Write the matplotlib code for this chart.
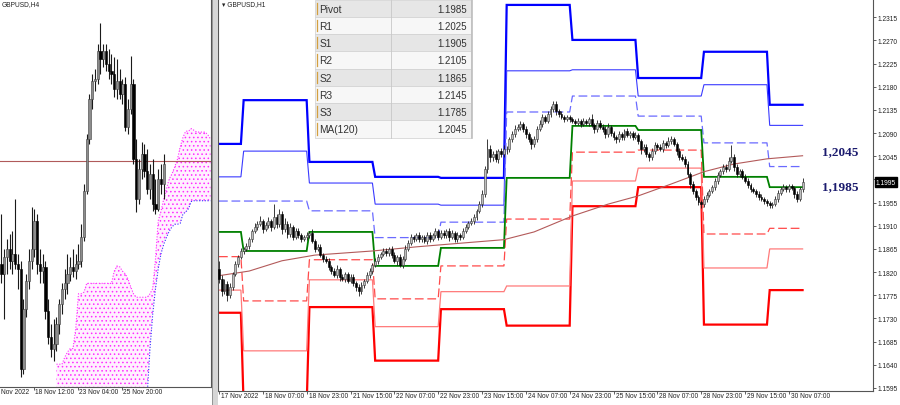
import numpy as np
import matplotlib
matplotlib.use('Agg')
import matplotlib.pyplot as plt
from matplotlib.patches import Rectangle

plt.rcParams['font.family'] = ['Liberation Sans', 'DejaVu Sans']
plt.rcParams['hatch.color'] = '#ff2cff'
plt.rcParams['hatch.linewidth'] = 0.6

# ---------------- H1 data (GBPUSD, from 17 Nov 2022 15:00) ----------------
h1_close = [1.1807, 1.1783, 1.1797, 1.1776, 1.1791, 1.1816, 1.1836, 1.1850, 1.1861, 1.1865,
            1.1871, 1.1884, 1.1900, 1.1908, 1.1914, 1.1919, 1.1904, 1.1912, 1.1919, 1.1908,
            1.1927, 1.1914, 1.1933, 1.1904, 1.1914, 1.1894, 1.1908, 1.1888, 1.1900, 1.1892,
            1.1884, 1.1888, 1.1892, 1.1896, 1.1880, 1.1865, 1.1869, 1.1853, 1.1846, 1.1842,
            1.1830, 1.1822, 1.1815, 1.1826, 1.1811, 1.1807, 1.1816, 1.1803, 1.1811, 1.1799,
            1.1791, 1.1783, 1.1795, 1.1803, 1.1815, 1.1822, 1.1834, 1.1842, 1.1850, 1.1855,
            1.1861, 1.1857, 1.1865, 1.1853, 1.1842, 1.1850, 1.1834, 1.1846, 1.1865, 1.1877,
            1.1888, 1.1884, 1.1892, 1.1884, 1.1888, 1.1880, 1.1892, 1.1884, 1.1892, 1.1900,
            1.1888, 1.1896, 1.1892, 1.1900, 1.1888, 1.1896, 1.1884, 1.1892, 1.1888, 1.1900,
            1.1908, 1.1915, 1.1919, 1.1927, 1.1939, 1.1952, 1.1972, 1.2020, 1.2059, 1.2044,
            1.2049, 1.2040, 1.2055, 1.2049, 1.2059, 1.2059, 1.2078, 1.2088, 1.2098, 1.2102,
            1.2108, 1.2098, 1.2088, 1.2078, 1.2069, 1.2078, 1.2098, 1.2108, 1.2121, 1.2114,
            1.2127, 1.2137, 1.2147, 1.2133, 1.2127, 1.2121, 1.2117, 1.2121, 1.2117, 1.2114,
            1.2110, 1.2114, 1.2108, 1.2114, 1.2110, 1.2117, 1.2106, 1.2098, 1.2110, 1.2102,
            1.2098, 1.2088, 1.2102, 1.2090, 1.2082, 1.2078, 1.2088, 1.2082, 1.2094, 1.2086,
            1.2090, 1.2082, 1.2086, 1.2075, 1.2059, 1.2063, 1.2049, 1.2044, 1.2055, 1.2067,
            1.2063, 1.2059, 1.2071, 1.2067, 1.2075, 1.2078, 1.2069, 1.2055, 1.2044, 1.2040,
            1.2030, 1.2011, 1.1991, 1.1977, 1.1966, 1.1956, 1.1952, 1.1962, 1.1970, 1.1977,
            1.1985, 1.1997, 1.2009, 1.2016, 1.2024, 1.2020, 1.2036, 1.2044, 1.2024, 1.2011,
            1.2016, 1.2005, 1.1997, 1.1989, 1.1981, 1.1977, 1.1972, 1.1966, 1.1962, 1.1958,
            1.1954, 1.1950, 1.1952, 1.1962, 1.1974, 1.1981, 1.1985, 1.1981, 1.1987, 1.1983,
            1.1972, 1.1962, 1.1981, 1.1995]
h1_first_open = 1.1826
# wick lengths in pips above / below the candle body
h1_wick_up = [16, 8, 10, 6, 8, 5, 6, 4, 5, 4, 6, 5, 4, 8, 6, 10, 4, 6, 8, 5,
              25, 6, 10, 5, 12, 6, 8, 4, 6, 5, 4, 5, 6, 4, 8, 4, 6, 5, 4, 6,
              5, 4, 6, 8, 4, 6, 5, 4, 6, 5, 4, 6, 5, 4, 6, 5, 4, 6, 5, 4,
              5, 6, 4, 5, 6, 4, 6, 5, 8, 6, 6, 5, 4, 6, 5, 4, 6, 5, 4, 5,
              4, 5, 6, 4, 5, 6, 4, 5, 4, 6, 5, 4, 6, 5, 4, 6, 8, 6, 19, 8,
              6, 8, 5, 6, 8, 6, 5, 6, 8, 5, 5, 4, 6, 5, 4, 6, 5, 8, 6, 5,
              5, 6, 6, 5, 4, 6, 4, 5, 4, 5, 4, 5, 4, 6, 4, 5, 10, 4, 6, 5,
              6, 5, 8, 4, 5, 4, 6, 5, 4, 6, 5, 4, 6, 5, 4, 6, 5, 4, 6, 5,
              4, 6, 5, 4, 8, 6, 5, 4, 6, 5, 6, 5, 4, 6, 5, 4, 5, 6, 5, 4,
              5, 6, 5, 4, 6, 5, 8, 22, 6, 5, 5, 4, 6, 5, 4, 5, 4, 6, 5, 4,
              4, 5, 4, 6, 5, 4, 6, 5, 4, 5, 4, 6, 5, 8]
h1_wick_dn = [8, 10, 6, 12, 6, 5, 4, 6, 4, 5, 4, 6, 5, 4, 6, 5, 8, 4, 6, 8,
              5, 8, 6, 10, 6, 8, 5, 6, 4, 6, 6, 4, 5, 6, 4, 6, 5, 4, 6, 5,
              6, 5, 4, 6, 8, 5, 6, 4, 5, 6, 8, 10, 6, 5, 4, 6, 5, 4, 6, 5,
              4, 6, 5, 6, 4, 8, 5, 6, 4, 5, 5, 6, 4, 5, 6, 4, 5, 6, 4, 5,
              6, 4, 5, 6, 8, 4, 6, 5, 6, 4, 4, 5, 4, 6, 5, 4, 5, 6, 8, 10,
              8, 6, 8, 5, 6, 10, 6, 5, 6, 4, 6, 5, 8, 6, 10, 6, 5, 4, 6, 5,
              4, 5, 6, 8, 5, 4, 5, 4, 6, 5, 5, 4, 6, 4, 5, 6, 5, 8, 6, 5,
              5, 8, 6, 5, 6, 8, 5, 6, 5, 4, 6, 5, 4, 6, 10, 6, 5, 8, 6, 5,
              5, 4, 6, 5, 4, 6, 5, 8, 6, 5, 5, 6, 8, 6, 5, 6, 8, 5, 6, 4,
              4, 5, 6, 4, 5, 6, 4, 5, 8, 6, 6, 5, 4, 6, 5, 4, 6, 5, 4, 6,
              5, 6, 5, 4, 6, 5, 4, 6, 5, 4, 8, 6, 4, 5]

# daily pivot levels (first bar index of each day)
day_start = [0, 9, 33, 57, 81, 105, 129, 153, 177, 201]
R3 = [1.2069, 1.2154, 1.2034, 1.2005, 1.2003, 1.2339, 1.2271, 1.2197, 1.2248, 1.2145]
R2 = [1.2005, 1.2055, 1.1993, 1.1952, 1.1950, 1.2211, 1.2213, 1.2162, 1.2184, 1.2105]
R1 = [1.1958, 1.1958, 1.1939, 1.1887, 1.1917, 1.2131, 1.2162, 1.2123, 1.2071, 1.2025]
PP = [1.1898, 1.1861, 1.1898, 1.1832, 1.1867, 1.2003, 1.2104, 1.2096, 1.2005, 1.1985]
S1 = [1.1850, 1.1764, 1.1844, 1.1768, 1.1832, 1.1923, 1.2053, 1.2057, 1.1894, 1.1905]
S2 = [1.1785, 1.1667, 1.1805, 1.1714, 1.1782, 1.1793, 1.1997, 1.2022, 1.1828, 1.1865]
S3 = [1.1741, 1.1560, 1.1752, 1.1648, 1.1748, 1.1716, 1.1948, 1.1985, 1.1718, 1.1785]

ma_idx = [0, 11, 23, 35, 56, 72, 81, 104, 115, 129, 142, 153, 165, 177, 188, 200, 213]
ma_val = [1.1813, 1.1822, 1.1842, 1.1853, 1.1861, 1.1869, 1.1873, 1.1883, 1.1898, 1.1929,
          1.1952, 1.1968, 1.1991, 1.2015, 1.2030, 1.2040, 1.2046]

h1_tick_idx = [0, 16, 32, 48, 64, 80, 96, 112, 128, 144, 160, 176, 192, 208]
h1_tick_lab = ['17 Nov 2022', '18 Nov 07:00', '18 Nov 23:00', '21 Nov 15:00', '22 Nov 07:00',
               '22 Nov 23:00', '23 Nov 15:00', '24 Nov 07:00', '24 Nov 23:00', '25 Nov 15:00',
               '28 Nov 07:00', '28 Nov 23:00', '29 Nov 15:00', '30 Nov 07:00']
price_ticks = [1.2315, 1.2270, 1.2225, 1.2180, 1.2135, 1.2090, 1.2045, 1.2000, 1.1955,
               1.1910, 1.1865, 1.1820, 1.1775, 1.1730, 1.1685, 1.1640, 1.1595]
last_price = 1.1995

table_names = ['Pivot', 'R1', 'S1', 'R2', 'S2', 'R3', 'S3', 'MA(120)']
table_vals = [1.1985, 1.2025, 1.1905, 1.2105, 1.1865, 1.2145, 1.1785, 1.2045]
marker_labels = ['1,2045', '1,1985']
marker_prices = [1.2054, 1.1986]

# ---------------- H4 data ----------------
h4_open = [1.1875, 1.1864, 1.1883, 1.1893, 1.1879, 1.1887, 1.1875, 1.1870, 1.1755, 1.1824,
           1.1856, 1.1879, 1.1893, 1.1925, 1.1875, 1.1867, 1.1872, 1.1821, 1.1791, 1.1778,
           1.1783, 1.1806, 1.1829, 1.1847, 1.1853, 1.1864, 1.1872, 1.1867, 1.1875, 1.1879,
           1.1906, 1.1959, 1.2019, 1.2065, 1.2086, 1.2088, 1.2120, 1.2111, 1.2120, 1.2105,
           1.2097, 1.2094, 1.2077, 1.2086, 1.2071, 1.2082, 1.2033, 1.2054, 1.2082, 1.1996,
           1.1950, 1.1985, 1.2002, 1.1982, 1.1962, 1.1979, 1.1944, 1.1939, 1.1973, 1.1967]
h4_close = [1.1864, 1.1883, 1.1893, 1.1879, 1.1887, 1.1875, 1.1870, 1.1755, 1.1824, 1.1856,
            1.1879, 1.1893, 1.1925, 1.1875, 1.1867, 1.1872, 1.1821, 1.1791, 1.1778, 1.1783,
            1.1806, 1.1829, 1.1847, 1.1853, 1.1864, 1.1872, 1.1867, 1.1875, 1.1879, 1.1906,
            1.1959, 1.2019, 1.2065, 1.2086, 1.2088, 1.2120, 1.2111, 1.2120, 1.2105, 1.2097,
            1.2094, 1.2077, 1.2086, 1.2071, 1.2082, 1.2033, 1.2054, 1.2082, 1.1996, 1.1950,
            1.1985, 1.2002, 1.1982, 1.1962, 1.1979, 1.1944, 1.1939, 1.1973, 1.1967, 1.1990]
h4_high = [1.1933, 1.1893, 1.1904, 1.1910, 1.1913, 1.1950, 1.1887, 1.1879, 1.1835, 1.1864,
           1.1893, 1.1941, 1.1939, 1.1933, 1.1893, 1.1887, 1.1879, 1.1835, 1.1806, 1.1812,
           1.1814, 1.1835, 1.1853, 1.1870, 1.1887, 1.1883, 1.1893, 1.1887, 1.1898, 1.1921,
           1.1967, 1.2025, 1.2071, 1.2094, 1.2100, 1.2128, 1.2152, 1.2128, 1.2128, 1.2123,
           1.2117, 1.2113, 1.2111, 1.2100, 1.2088, 1.2090, 1.2065, 1.2114, 1.2088, 1.2019,
           1.1996, 1.2016, 1.2013, 1.2008, 1.1990, 1.1996, 1.1973, 1.1985, 1.1990, 1.2002]
h4_low = [1.1853, 1.1812, 1.1864, 1.1870, 1.1864, 1.1870, 1.1847, 1.1745, 1.1749, 1.1814,
          1.1847, 1.1870, 1.1883, 1.1864, 1.1853, 1.1853, 1.1812, 1.1783, 1.1768, 1.1764,
          1.1775, 1.1795, 1.1818, 1.1835, 1.1841, 1.1856, 1.1860, 1.1858, 1.1870, 1.1872,
          1.1902, 1.1956, 1.2013, 1.2054, 1.2074, 1.2082, 1.2094, 1.2102, 1.2097, 1.2088,
          1.2082, 1.2067, 1.2065, 1.2065, 1.2059, 1.2028, 1.2025, 1.2048, 1.1990, 1.1935,
          1.1944, 1.1973, 1.1975, 1.1956, 1.1950, 1.1936, 1.1933, 1.1936, 1.1956, 1.1950]
# Ichimoku cloud spans, starting at H4 bar 20
cloud_start = 20
cloud_upper = [1.1760, 1.1760, 1.1760, 1.1768, 1.1774, 1.1778, 1.1778, 1.1801, 1.1841, 1.1841,
               1.1843, 1.1853, 1.1853, 1.1853, 1.1853, 1.1853, 1.1853, 1.1853, 1.1853, 1.1853,
               1.1853, 1.1867, 1.1873, 1.1872, 1.1867, 1.1864, 1.1858, 1.1849, 1.1841, 1.1837,
               1.1837, 1.1837, 1.1837, 1.1837, 1.1841, 1.1847, 1.1881, 1.1925, 1.1936, 1.1950,
               1.1962, 1.1973, 1.1979, 1.1987, 1.1996, 1.2010, 1.2021, 1.2028, 1.2028, 1.2031,
               1.2029, 1.2027, 1.2027, 1.2027, 1.2027, 1.2024, 1.2019]
cloud_lower = [1.1705, 1.1705, 1.1705, 1.1705, 1.1705, 1.1705, 1.1705, 1.1705,
               1.1705, 1.1705, 1.1705, 1.1705, 1.1705, 1.1705, 1.1705, 1.1705, 1.1705, 1.1705,
               1.1705, 1.1705, 1.1705, 1.1705, 1.1705, 1.1705, 1.1705, 1.1705, 1.1705, 1.1705,
               1.1705, 1.1705, 1.1705, 1.1705, 1.1705, 1.1726, 1.1778, 1.1818, 1.1847, 1.1870,
               1.1887, 1.1898, 1.1906, 1.1913, 1.1918, 1.1921, 1.1921, 1.1922, 1.1933, 1.1935,
               1.1939, 1.1947, 1.1948, 1.1948, 1.1948, 1.1948, 1.1948, 1.1948, 1.1948]
h4_tick_idx = [12, 28, 44]
h4_tick_lab = ['18 Nov 12:00', '23 Nov 04:00', '25 Nov 20:00']
h4_first_label = 'Nov 2022'
h4_current = 1.1994

# ---------------- figure ----------------
W, H = 900, 406
fig = plt.figure(figsize=(W / 100, H / 100), dpi=100)
fig.patch.set_facecolor('white')

axL = fig.add_axes([0, 1 - 388 / H, 211 / W, 388 / H])
axR = fig.add_axes([218 / W, 1 - 392 / H, (873 - 218) / W, 392 / H])


def draw_candles(ax, x, o, h, l, c, width, up_fc, up_ec, dn_fc, wick_c, wlw):
    x = np.asarray(x, float)
    o, h, l, c = (np.asarray(v, float) for v in (o, h, l, c))
    up = c >= o
    ax.vlines(x, l, h, colors=wick_c, lw=wlw, zorder=3)
    bot = np.minimum(o, c)
    hgt = np.maximum(np.abs(c - o), 0.00008)
    ax.bar(x[up], hgt[up], width, bot[up], color=up_fc, edgecolor=up_ec, lw=0.4, zorder=4)
    ax.bar(x[~up], hgt[~up], width, bot[~up], color=dn_fc, edgecolor=dn_fc, lw=0.4, zorder=4)


# ----- right panel (H1) -----
n = len(h1_close)
idx = np.arange(n)
c1 = np.array(h1_close)
o1 = np.concatenate(([h1_first_open], c1[:-1]))
hi1 = np.maximum(o1, c1) + np.array(h1_wick_up) * 1e-4
lo1 = np.minimum(o1, c1) - np.array(h1_wick_dn) * 1e-4

counts = np.diff(day_start + [n])
styles = [
    (R3, dict(color='#0000ff', lw=1.6)),
    (R2, dict(color='#3a3aff', lw=0.8)),
    (R1, dict(color='#6a6aff', lw=0.9, dashes=(7, 3))),
    (S3, dict(color='#ff0000', lw=1.6)),
    (S2, dict(color='#ff7a7a', lw=0.9)),
    (S1, dict(color='#ff4a4a', lw=0.9, dashes=(7, 3))),
    (PP, dict(color='#008000', lw=1.3)),
]
for vals, st in styles:
    axR.plot(idx, np.repeat(vals, counts), zorder=2, solid_joinstyle='miter', **st)
axR.plot(ma_idx, ma_val, color='#b35a5a', lw=0.8, zorder=2.5)

draw_candles(axR, idx, o1, hi1, lo1, c1, 0.7, '#bdbdbd', '#3a3a3a', '#000000', '#1a1a1a', 0.6)

axR.set_xlim(-0.36, 238.7)
axR.set_ylim(1.1589, 1.23505)
axR.yaxis.tick_right()
axR.set_yticks(price_ticks)
# the 1.2000 label sits under the current-price box and is not readable
axR.set_yticklabels(['' if abs(v - 1.2000) < 1e-6 else f'{v:.4f}' for v in price_ticks],
                    fontsize=4.8, color='#222222')
axR.tick_params(axis='y', direction='out', length=2, width=0.6, pad=1.5, colors='#444444',
                labelcolor='#222222')
axR.set_xticks(h1_tick_idx)
axR.set_xticklabels([])
axR.tick_params(axis='x', direction='out', length=2.5, width=0.6, colors='#444444')
for k, lab in zip(h1_tick_idx, h1_tick_lab):
    axR.annotate(lab, xy=(k, 0), xycoords=('data', 'axes fraction'), xytext=(2, -1.5),
                 textcoords='offset pixels', ha='left', va='top', fontsize=4.8,
                 color='#222222', annotation_clip=False)
for s in ['left', 'right', 'bottom']:
    axR.spines[s].set_color('#555555')
    axR.spines[s].set_linewidth(0.8)
axR.spines['top'].set_visible(False)

axR.annotate(f'{last_price:.4f}', xy=(1, last_price), xycoords=('axes fraction', 'data'),
             xytext=(3, 0), textcoords='offset pixels', ha='left', va='center',
             fontsize=4.8, color='white', annotation_clip=False, zorder=10,
             bbox=dict(boxstyle='square,pad=0.2', fc='black', ec='black'))

for lab, p in zip(marker_labels, marker_prices):
    axR.text(220, p, lab, ha='left', va='center', fontsize=9.5, fontweight='bold',
             family='Liberation Serif', color='#1b1b6e', zorder=6)

# ----- left panel (H4) -----
m = len(h4_close)
jx = np.arange(m)
jc = np.arange(cloud_start, cloud_start + len(cloud_upper))
axL.fill_between(jc, cloud_upper, cloud_lower, facecolor='#fff0ff', edgecolor='#ff2cff',
                 hatch='....', linewidth=0, zorder=1)
axL.plot(jc, cloud_upper, color='#ff2cff', lw=0.8, ls=(0, (1, 1.5)), zorder=1.5)
axL.plot(jc, cloud_lower, color='#3030ff', lw=0.8, ls=(0, (1, 1.5)), zorder=1.5)
axL.axhline(h4_current, color='#b05a5a', lw=0.8, zorder=2)
draw_candles(axL, jx, h4_open, h4_high, h4_low, h4_close, 0.85, '#8c8c8c', '#404040',
             '#000000', '#1a1a1a', 0.8)
axL.set_xlim(-0.545, -0.545 + 211 / 2.75)
axL.set_ylim(1.2180 - 0.000115 * 388, 1.2180)
axL.set_yticks([])
axL.set_xticks(h4_tick_idx)
axL.set_xticklabels([])
axL.tick_params(axis='x', direction='out', length=2.5, width=0.6, colors='#444444')
for k, lab in zip(h4_tick_idx, h4_tick_lab):
    axL.annotate(lab, xy=(k, 0), xycoords=('data', 'axes fraction'), xytext=(1, -1.5),
                 textcoords='offset pixels', ha='left', va='top', fontsize=4.8,
                 color='#222222', annotation_clip=False)
axL.annotate(h4_first_label, xy=(0, 0), xycoords='axes fraction', xytext=(1, -1.5),
             textcoords='offset pixels', ha='left', va='top', fontsize=4.8, color='#222222',
             annotation_clip=False)
for s in ['left', 'top']:
    axL.spines[s].set_visible(False)
for s in ['right', 'bottom']:
    axL.spines[s].set_color('#555555')
    axL.spines[s].set_linewidth(0.8)

# ----- overlay: separator, titles, table -----
ov = fig.add_axes([0, 0, 1, 1], zorder=20)
ov.set_xlim(0, W)
ov.set_ylim(H, 0)
ov.axis('off')
ov.add_patch(Rectangle((211.5, 0), 6.5, H, fc='#d6d6d6', ec='none'))
ov.plot([211.5, 211.5], [0, H], color='#8a8a8a', lw=0.6)
ov.text(2, 5, 'GBPUSD,H4', fontsize=4.8, color='#222222', va='center', ha='left')
ov.text(222, 5, '▾ GBPUSD,H1', fontsize=4.8, color='#222222', va='center', ha='left',
        family=['Liberation Sans', 'DejaVu Sans'])

row_h = 17.25
tx0, tdiv, tx1 = 314.5, 391, 471
for k, (name, val) in enumerate(zip(table_names, table_vals)):
    y0 = 0.6 + k * row_h
    fc = '#e6e6e6' if k % 2 == 0 else '#f7f7f7'
    ov.add_patch(Rectangle((tx0, y0), tx1 - tx0, row_h, fc=fc, ec='#d0d0d0', lw=0.5))
    ov.plot([tx0 + 2.5, tx0 + 2.5], [y0 + 3, y0 + row_h - 3], color='#d4a040', lw=0.9)
    ov.text(tx0 + 5, y0 + row_h / 2 + 0.5, name, fontsize=7.3, color='#333333',
            ha='left', va='center')
    ov.text(tx1 - 4, y0 + row_h / 2 + 0.5, f'{val:.4f}', fontsize=7.0, color='#333333',
            ha='right', va='center')
ov.plot([tdiv, tdiv], [0.6, 0.6 + 8 * row_h], color='#c8c8c8', lw=0.6)
ov.plot([tx1 + 1, tx1 + 1], [0.6, 0.6 + 8 * row_h], color='#bdbdbd', lw=1.2)

fig.savefig('out.png', dpi=100)
